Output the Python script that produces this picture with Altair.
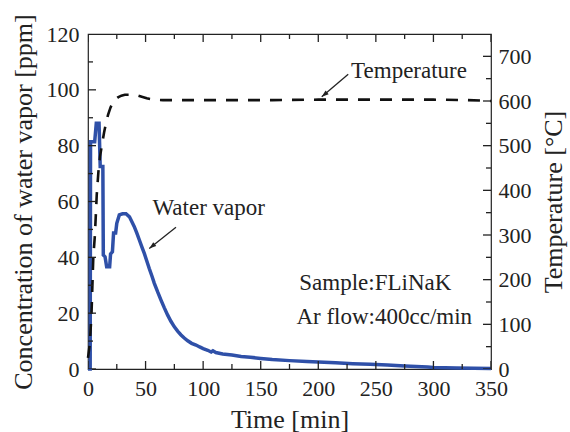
import altair as alt
import pandas as pd

# ---- data ----
time_w = [0, 1.9, 2.2, 5.8, 7.2, 9.6, 10.6, 12.9, 13.3, 14.8, 16.2, 18.8, 19.6, 21.2, 22.2, 24.0,
          25.0, 27.2, 30.0, 33.0, 36.0, 38.0, 40.2, 42.5, 44.6, 47.0, 48.9, 51.0, 53.2, 55.5, 57.6,
          60.5, 63.4, 66.3, 69.2, 72.0, 75.0, 78.0, 80.8, 83.6, 86.6, 90.0, 93.8, 97.0, 100.0,
          104.0, 107.0, 108.5, 111.0, 117.0, 125.0, 133.0, 141.0, 150.0, 160.0, 175.0, 190.0,
          200.0, 215.0, 230.0, 245.0, 260.0, 275.0, 285.0, 295.0, 300.0, 320.0, 335.0, 350.0]
vapor = [0, 0, 81.4, 81.4, 88.0, 88.0, 72.5, 72.5, 40.8, 40.2, 36.6, 36.6, 41.2, 42.0, 48.7, 48.7,
         52.2, 55.2, 55.6, 55.6, 54.5, 52.8, 51.0, 48.6, 46.2, 43.5, 41.4, 38.8, 36.0, 33.3, 30.7,
         27.6, 24.7, 21.9, 19.3, 17.1, 15.1, 13.5, 12.2, 11.1, 10.1, 9.2, 8.6, 7.9, 7.3,
         6.7, 6.1, 6.5, 5.9, 5.4, 5.0, 4.5, 4.2, 3.8, 3.4, 3.0, 2.7,
         2.5, 2.2, 1.9, 1.7, 1.4, 1.1, 0.9, 0.7, 0.5, 0.4, 0.3, 0.2]

time_t = [0, 1.5, 3.0, 4.6, 6.0, 7.6, 9.0, 10.4, 12.0, 14.0, 15.6, 17.4, 19.5, 21.7, 23.5, 26.0,
          29.0, 32.0, 37.0, 42.3, 46.0, 51.0, 57.0, 65.0, 80.0, 120.0, 160.0, 200.0, 250.0,
          300.0, 330.0, 350.0]
temperature = [25, 55, 120, 250, 300, 390, 440, 475, 500, 530, 550, 569, 585, 598, 603, 608,
               612, 614, 614, 613, 610, 606, 603, 602, 602, 602, 602, 603, 603, 603, 602, 600]

x_major = [0, 50, 100, 150, 200, 250, 300, 350]
x_minor = [25, 75, 125, 175, 225, 275, 325]
yl_major = [0, 20, 40, 60, 80, 100, 120]
yl_minor = [10, 30, 50, 70, 90, 110]
yr_major = [0, 100, 200, 300, 400, 500, 600, 700]
yr_minor = [50, 150, 250, 350, 450, 550, 650, 750]

ann_text = ["Temperature", "Water vapor", "Sample:FLiNaK", "Ar flow:400cc/min"]
ann_t = [228.5, 56.0, 183.5, 181.0]
ann_v = [104.4, 55.2, 28.3, 16.1]

arrow_t0 = [226.0, 76.4]
arrow_v0 = [105.6, 50.8]
arrow_t1 = [203.0, 53.2]
arrow_v1 = [97.5, 43.2]
arrow_angle = [230, 232]

MAJ, MIN = 16, 10   # full tick length; half of it is clipped away -> inward ticks

df_w = pd.DataFrame({"t": time_w, "v": vapor})
df_t = pd.DataFrame({"t": time_t, "T": temperature})
df_ann = pd.DataFrame({"t": ann_t, "v": ann_v, "label": ann_text})
df_arr = pd.DataFrame({"t0": arrow_t0, "v0": arrow_v0, "t1": arrow_t1, "v1": arrow_v1,
                       "ang": arrow_angle})

# tick tables (bottom/top on the time axis, left on ppm axis, right on temperature axis)
df_tx = pd.DataFrame(
    [{"t": t, "v": edge, "len": MAJ} for t in x_major for edge in (0, 120)]
    + [{"t": t, "v": edge, "len": MIN} for t in x_minor for edge in (0, 120)]
)
df_tl = pd.DataFrame([{"t": 0, "v": v, "len": MAJ} for v in yl_major]
                     + [{"t": 0, "v": v, "len": MIN} for v in yl_minor])
df_tr = pd.DataFrame([{"t": 350, "T": v, "len": MAJ} for v in yr_major]
                     + [{"t": 350, "T": v, "len": MIN} for v in yr_minor])

FONT = "Liberation Serif"
INK = "#222222"

xs = alt.Scale(domain=[0, 350], nice=False, zero=False)
yls = alt.Scale(domain=[0, 120], nice=False, zero=False)
yrs = alt.Scale(domain=[0, 750], nice=False, zero=False)

lab = dict(labelFont=FONT, labelFontSize=22, labelColor=INK, labelFlush=False,
           labelOverlap=False, ticks=False, domain=False, grid=False, tickSize=0)
ttl = dict(titleFont=FONT, titleFontSize=26, titleFontWeight="normal", titleColor=INK,
           titleBaseline="middle", titleAlign="center")

ax_bottom = alt.Axis(orient="bottom", values=x_major, labelPadding=9, title="Time [min]",
                     titleX=201.5, titleY=50, **lab, **ttl)
ax_left = alt.Axis(orient="left", values=yl_major, labelPadding=9,
                   title="Concentration of water vapor [ppm]", titleAngle=270,
                   titleX=-65, titleY=167.5, **lab, **ttl)
ax_right = alt.Axis(orient="right", values=yr_major, labelPadding=7,
                    title="Temperature [°C]", titleAngle=270, titleX=62, titleY=167.5,
                    **lab, **ttl)

water = alt.Chart(df_w).mark_line(color="#2f50a8", strokeWidth=3.5).encode(
    x=alt.X("t:Q", scale=xs, axis=ax_bottom),
    y=alt.Y("v:Q", scale=yls, axis=ax_left),
)
temp = alt.Chart(df_t).mark_line(color="#111111", strokeWidth=2.6, strokeDash=[12, 10]).encode(
    x=alt.X("t:Q", scale=xs, axis=None),
    y=alt.Y("T:Q", scale=yrs, axis=ax_right),
)

ticks_x = alt.Chart(df_tx).mark_tick(orient="vertical", thickness=1.3, color=INK, opacity=1,
                                     clip=True).encode(
    x=alt.X("t:Q", scale=xs, axis=None),
    y=alt.Y("v:Q", scale=yls, axis=None),
    size=alt.Size("len:Q", scale=None, legend=None),
)
ticks_l = alt.Chart(df_tl).mark_tick(orient="horizontal", thickness=1.3, color=INK, opacity=1,
                                     clip=True).encode(
    x=alt.X("t:Q", scale=xs, axis=None),
    y=alt.Y("v:Q", scale=yls, axis=None),
    size=alt.Size("len:Q", scale=None, legend=None),
)
ticks_r = alt.Chart(df_tr).mark_tick(orient="horizontal", thickness=1.3, color=INK, opacity=1,
                                     clip=True).encode(
    x=alt.X("t:Q", scale=xs, axis=None),
    y=alt.Y("T:Q", scale=yrs, axis=None),
    size=alt.Size("len:Q", scale=None, legend=None),
)

texts = alt.Chart(df_ann).mark_text(font=FONT, fontSize=23, color=INK, align="left",
                                    baseline="alphabetic").encode(
    x=alt.X("t:Q", scale=xs, axis=None),
    y=alt.Y("v:Q", scale=yls, axis=None),
    text="label:N",
)
arrows = alt.Chart(df_arr).mark_rule(color=INK, strokeWidth=1.3).encode(
    x=alt.X("t0:Q", scale=xs, axis=None),
    y=alt.Y("v0:Q", scale=yls, axis=None),
    x2="t1:Q",
    y2="v1:Q",
)
heads = alt.Chart(df_arr).mark_point(shape="M0,0L-0.7,2L0.7,2Z", filled=True, size=49,
                                     color=INK, opacity=1, strokeWidth=0).encode(
    x=alt.X("t1:Q", scale=xs, axis=None),
    y=alt.Y("v1:Q", scale=yls, axis=None),
    angle=alt.Angle("ang:Q", scale=None),
)

chart = alt.layer(water, temp, ticks_x, ticks_l, ticks_r, texts, arrows, heads).resolve_scale(
    y="independent"
).resolve_axis(x="independent", y="independent").properties(
    width=403, height=335,
    autosize=alt.AutoSizeParams(type="none"),
    padding={"left": 88, "top": 34, "right": 79, "bottom": 63},
    background="white",
).configure_view(stroke=INK, strokeWidth=1.2)

chart.save("out.html", embed_options={"renderer": "svg", "actions": False})
